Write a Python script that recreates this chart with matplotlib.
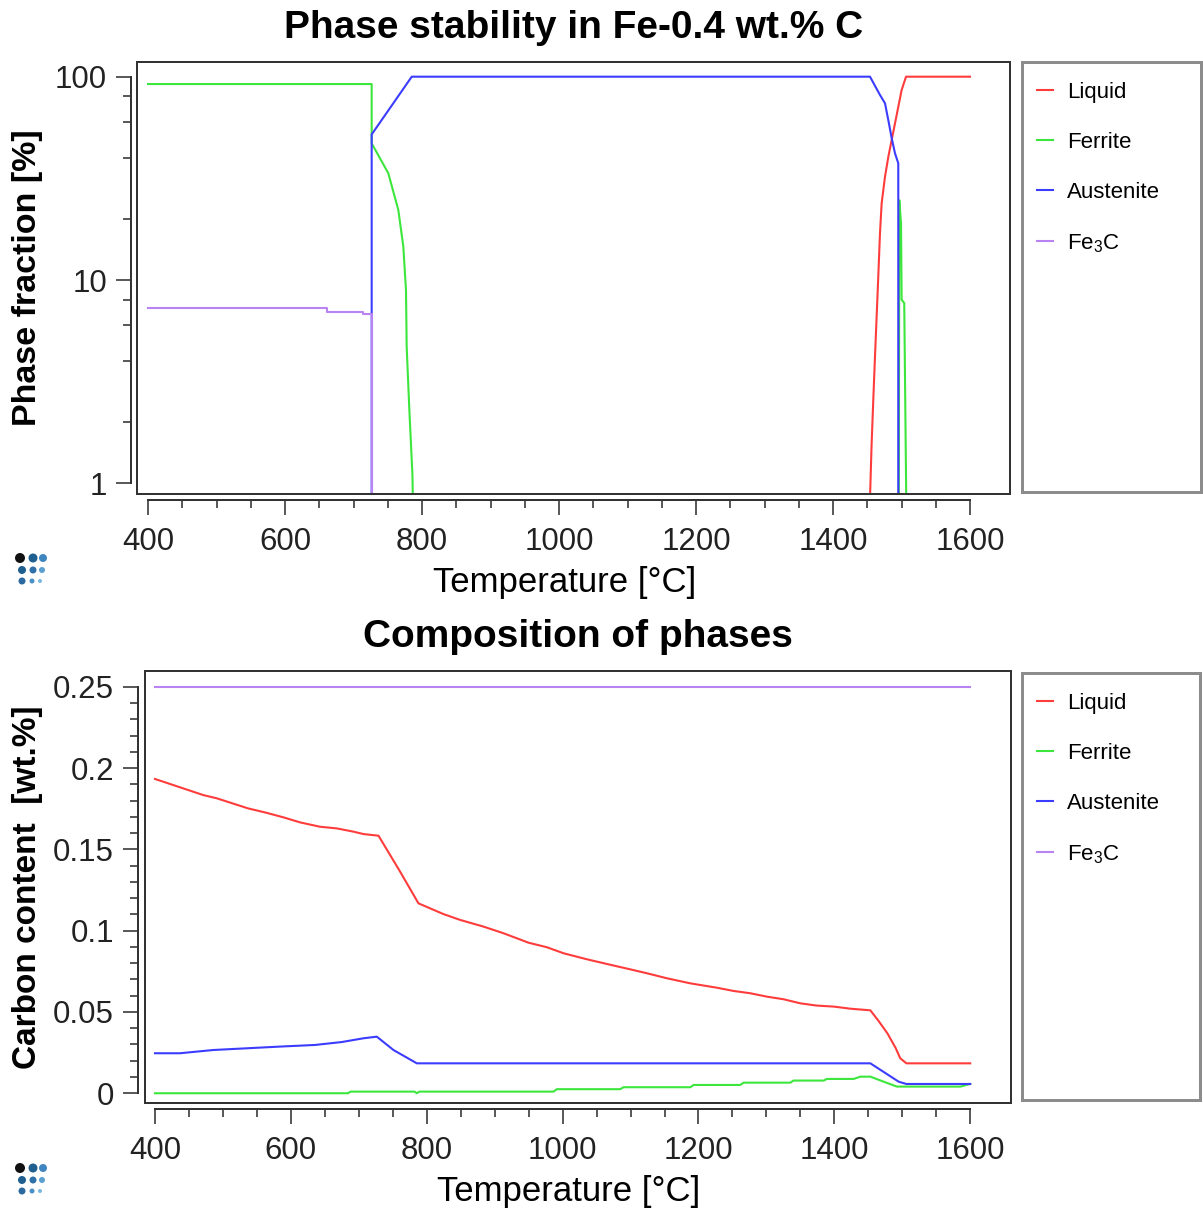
import numpy as np
import matplotlib
matplotlib.use('Agg')
import matplotlib.pyplot as plt
from matplotlib.patches import Rectangle
from matplotlib.ticker import FixedLocator, MultipleLocator, FuncFormatter, NullFormatter

# ---- phase fraction [%] (top chart) ----
liq_T = [1452, 1456.4, 1458.8, 1461.3, 1463.7, 1466.1, 1468.6, 1471, 1475.9, 1480.8, 1485.7,
         1495.3, 1500.2, 1506.6, 1600]
liq_f = [0.5, 1.57, 2.57, 4.2, 6.6, 10.4, 17, 23.8, 32.2, 40.4, 48.9, 71, 86, 100, 100]

fer_T = [400, 726.5, 726.5, 750.8, 765.4, 772.7, 776.6, 777.6, 781.5, 786, 788,
         1000,
         1496, 1496.8, 1499.3, 1500.2, 1504, 1506, 1507.6]
fer_f = [92, 92, 47, 33.5, 22.1, 14.6, 8.9, 4.7, 2.3, 1.1, 0.5,
         np.nan,
         0.5, 24.7, 19, 8, 7.7, 1.7, 0.5]

aus_T = [726.5, 726.5, 785, 1454, 1468.6, 1475.9, 1480.8, 1485.7, 1490.5, 1495.3, 1495.3]
aus_f = [0.5, 52, 100, 100, 81.3, 74, 61, 49.8, 42, 37.5, 0.5]

fe3c_T = [400, 660.8, 660.8, 714.3, 714.3, 726.5, 726.5]
fe3c_f = [7.26, 7.26, 6.98, 6.98, 6.8, 6.8, 0.5]

# ---- carbon content [wt.%] (bottom chart) ----
liq_cT = [400, 471, 491, 537, 564, 589, 613.5, 643, 667.6, 692, 707, 729, 760.8, 787.8,
          824.6, 849.2, 883.5, 913, 949.8, 976.8, 1001.4, 1035.7, 1065.2, 1099.6, 1124.1,
          1153.6, 1187.9, 1227.2, 1251.7, 1276.3, 1300.8, 1325.3, 1349.9, 1374.4, 1399,
          1423.5, 1453, 1465, 1478, 1490, 1497, 1506, 1600]
liq_c = [0.1933, 0.1834, 0.1814, 0.1752, 0.1725, 0.1697, 0.1666, 0.1639, 0.1629, 0.1609,
         0.1594, 0.1584, 0.1363, 0.1168, 0.1102, 0.1066, 0.1025, 0.0984, 0.0926, 0.0898,
         0.0861, 0.0824, 0.0795, 0.0762, 0.0738, 0.0707, 0.0676, 0.0649, 0.0629, 0.0615,
         0.0594, 0.0578, 0.0553, 0.0539, 0.0533, 0.052, 0.0510, 0.0445, 0.0369, 0.028,
         0.0215, 0.0184, 0.0184]

fer_cT = [400, 684, 688, 782, 785.4, 789, 986.6, 991.5, 1084.8, 1089.7, 1188, 1192.8,
          1261.5, 1266.4, 1335, 1340, 1384.3, 1389, 1428.4, 1438.3, 1453, 1472.6, 1492,
          1585.6, 1600]
fer_c = [0.0, 0.0, 0.001, 0.001, 0.0, 0.001, 0.001, 0.0025, 0.0025, 0.0037, 0.0037,
         0.0051, 0.0051, 0.0065, 0.0065, 0.0078, 0.0078, 0.0088, 0.0088, 0.0102, 0.0102,
         0.0071, 0.0041, 0.0041, 0.0057]

aus_cT = [400, 436.8, 485.9, 537.4, 584, 635.6, 675, 706.8, 726.5, 751, 785.4, 1453,
          1494.7, 1506, 1600]
aus_c = [0.0246, 0.0246, 0.0266, 0.0277, 0.0287, 0.0297, 0.0315, 0.0338, 0.0348, 0.0266,
         0.0184, 0.0184, 0.0071, 0.0057, 0.0057]

fe3c_cT = [400, 1600]
fe3c_c = [0.25, 0.25]

phases = ['Liquid', 'Ferrite', 'Austenite', r'Fe$_\mathregular{3}$C']
colors = ['#ff3c3c', '#3ce63c', '#3c3cff', '#b984f2']

x_major = np.arange(400, 1601, 200)
x_minor = np.arange(400, 1601, 50)

# logo dots (x, y in pixels of the top logo), size in px
logo_x = [20, 33, 43, 22, 33, 42, 22, 32, 40]
logo_y = [558, 558, 558, 570, 570, 570, 581, 581, 581]
logo_d = [10, 9, 8, 8, 7, 6, 7, 5, 4]
logo_c = ['#111111', '#1f5f8f', '#3f86c0', '#1f5f8f', '#3070a8', '#5a9fd0',
          '#2a6aa0', '#4a90c8', '#7ab8e0']

W, H = 1203, 1213
PT = 0.72  # px -> pt at 100 dpi
FRAME = '#333333'

plt.rcParams['font.family'] = ['Liberation Sans', 'DejaVu Sans']
plt.rcParams['mathtext.fontset'] = 'custom'
plt.rcParams['mathtext.rm'] = 'Liberation Sans'

fig = plt.figure(figsize=(W / 100, H / 100), dpi=100)


def px_axes(l, t, r, b):
    return fig.add_axes([l / W, 1 - b / H, (r - l) / W, (b - t) / H])


def style(ax, off_l, off_b):
    ax.spines['top'].set_visible(False)
    ax.spines['right'].set_visible(False)
    for s in ['left', 'bottom']:
        ax.spines[s].set_linewidth(2 * PT)
        ax.spines[s].set_color(FRAME)
    ax.spines['left'].set_position(('outward', off_l * PT))
    ax.spines['bottom'].set_position(('outward', off_b * PT))
    ax.add_patch(Rectangle((0, 0), 1, 1, transform=ax.transAxes, fill=False,
                           ec=FRAME, lw=2 * PT, clip_on=False, zorder=5))
    ax.tick_params(which='major', length=15 * PT, width=1.6 * PT, color=FRAME,
                   labelsize=22.5, labelcolor='#222222')
    ax.tick_params(which='minor', length=8 * PT, width=1.6 * PT, color=FRAME)
    ax.tick_params(axis='x', which='major', pad=12 * PT)
    ax.tick_params(axis='y', which='major', pad=9 * PT)
    ax.xaxis.set_major_locator(FixedLocator(x_major))
    ax.xaxis.set_minor_locator(FixedLocator(x_minor))
    ax.spines['bottom'].set_bounds(400, 1600)


def legend_box(l, t, r, b, handles):
    lg = px_axes(l, t, r, b)
    lg.set_xticks([])
    lg.set_yticks([])
    for s in lg.spines.values():
        s.set_color('#8c8c8c')
        s.set_linewidth(3 * PT)
    lg.legend(handles, phases, loc='upper left', bbox_to_anchor=(-5 / (r - l), 1),
              frameon=False, fontsize=16, handlelength=0.75, handletextpad=0.6,
              labelspacing=1.31, borderaxespad=0, borderpad=0.89)


# ---------------- top: phase stability ----------------
ax1 = px_axes(137, 62, 1010, 494)
h1 = []
for T, v, c in zip([liq_T, fer_T, aus_T, fe3c_T], [liq_f, fer_f, aus_f, fe3c_f], colors):
    h1 += ax1.plot(T, v, color=c, lw=1.5)
ax1.set_yscale('log')
ax1.set_xlim(383.9, 1658.4)
ax1.set_ylim(0.886, 118.1)
style(ax1, 6, 6)
ax1.spines['left'].set_bounds(1, 100)
ax1.yaxis.set_major_locator(FixedLocator([1, 10, 100]))
ax1.yaxis.set_minor_locator(FixedLocator([2, 4, 6, 8, 20, 40, 60, 80]))
ax1.yaxis.set_major_formatter(FuncFormatter(lambda v, p: '%g' % v))
ax1.yaxis.set_minor_formatter(NullFormatter())
ax1.set_title('Phase stability in Fe-0.4 wt.% C', fontsize=28, fontweight='bold', pad=17)
ax1.set_xlabel('Temperature [°C]', fontsize=25, va='center')
ax1.xaxis.set_label_coords(0.49, -0.206)
ax1.set_ylabel('Phase fraction [%]', fontsize=24.5, fontweight='bold', va='center')
ax1.yaxis.set_label_coords(-0.125, 0.5)
legend_box(1022, 62, 1201, 492, h1)

# ---------------- bottom: composition ----------------
ax2 = px_axes(145, 671, 1011, 1103)
h2 = []
for T, v, c in zip([liq_cT, fer_cT, aus_cT, fe3c_cT], [liq_c, fer_c, aus_c, fe3c_c], colors):
    h2 += ax2.plot(T, v, color=c, lw=1.5)
ax2.set_xlim(385.3, 1660)
ax2.set_ylim(-0.006, 0.2597)
style(ax2, 7, 6)
ax2.spines['left'].set_bounds(0, 0.25)
ax2.yaxis.set_major_locator(MultipleLocator(0.05))
ax2.yaxis.set_minor_locator(FixedLocator(np.arange(0, 26) / 100))
ax2.yaxis.set_major_formatter(FuncFormatter(lambda v, p: '%g' % round(v, 3)))
ax2.set_title('Composition of phases', fontsize=28, fontweight='bold', pad=17)
ax2.set_xlabel('Temperature [°C]', fontsize=25, va='center')
ax2.xaxis.set_label_coords(0.4896, -0.206)
ax2.set_ylabel('Carbon content  [wt.%]', fontsize=24, fontweight='bold', va='center')
ax2.yaxis.set_label_coords(-0.1357, 0.5)
legend_box(1022, 673, 1200, 1100, h2)

# ---------------- logos ----------------
ov = fig.add_axes([0, 0, 1, 1], zorder=-1)
ov.set_xlim(0, W)
ov.set_ylim(H, 0)
ov.axis('off')
sizes = [(d * PT) ** 2 for d in logo_d]
for dy in [0, 610]:
    ov.scatter(logo_x, [y + dy for y in logo_y], s=sizes, c=logo_c, lw=0)

fig.savefig('out.png', dpi=100)
